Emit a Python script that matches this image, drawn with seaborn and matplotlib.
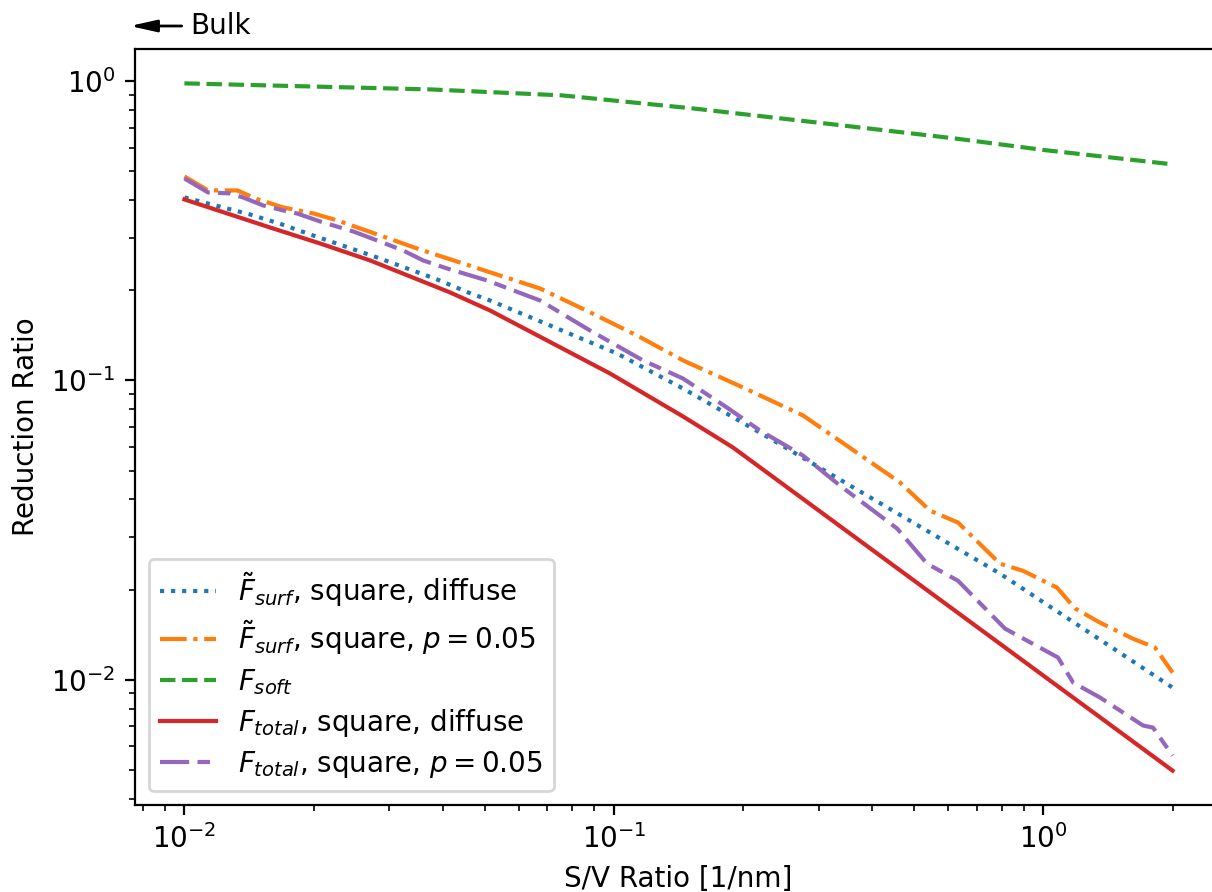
import matplotlib
matplotlib.use("Agg")
import matplotlib.pyplot as plt
import seaborn as sns
import numpy as np

# ---- data ----
x_surf_diffuse = [0.010, 0.01422, 0.01689, 0.01994, 0.02367, 0.02810, 0.03301, 0.03876,
                  0.04576, 0.05149, 0.07105, 0.1017, 0.1449, 0.2311, 0.3239, 0.7930, 2.0]
y_surf_diffuse = [0.4093, 0.3590, 0.3324, 0.3054, 0.2807, 0.2578, 0.2369, 0.2177,
                  0.1970, 0.1851, 0.1527, 0.1231, 0.0940, 0.0640, 0.0481, 0.0226, 0.0094]

x_surf_p = [0.010, 0.01135, 0.01327, 0.01485, 0.01698, 0.01994, 0.02268, 0.02810, 0.03538,
            0.04385, 0.05149, 0.06733, 0.08803, 0.1132, 0.1449, 0.2000, 0.2757, 0.4638,
            0.5448, 0.6329, 0.7930, 0.8970, 1.076, 1.185, 1.355, 1.617, 1.820, 2.0]
y_surf_p = [0.481, 0.432, 0.432, 0.403, 0.379, 0.362, 0.343, 0.308, 0.274,
            0.248, 0.230, 0.203, 0.169, 0.1414, 0.1167, 0.0947, 0.0764, 0.0456,
            0.0367, 0.0335, 0.0244, 0.0231, 0.0203, 0.0173, 0.0155, 0.0137, 0.0128, 0.01055]

x_soft = [0.010, 0.0375, 0.0757, 0.153, 0.309, 0.620, 1.0, 2.0]
y_soft = [0.985, 0.940, 0.898, 0.812, 0.724, 0.645, 0.590, 0.528]

x_total_diffuse = [0.010, 0.01582, 0.02070, 0.02706, 0.04155, 0.05149, 0.0980, 0.1449, 0.1894, 2.0]
y_total_diffuse = [0.4030, 0.3248, 0.2871, 0.2520, 0.1970, 0.1714, 0.1055, 0.0758, 0.0597, 0.00496]

x_total_p = [0.010, 0.01135, 0.01277, 0.01369, 0.01525, 0.01698, 0.01829, 0.02070, 0.02304,
             0.02471, 0.02810, 0.03230, 0.03595, 0.04089, 0.05067, 0.06733, 0.08803, 0.1169,
             0.1449, 0.1834, 0.2190, 0.2757, 0.3363, 0.4565, 0.5362, 0.6329, 0.8144, 1.082,
             1.173, 1.355, 1.707, 1.800, 2.0]
y_total_p = [0.4737, 0.4253, 0.4221, 0.4093, 0.3848, 0.3703, 0.3618, 0.3402, 0.3248,
             0.3150, 0.2939, 0.2721, 0.2520, 0.2369, 0.2160, 0.1851, 0.1469, 0.1167,
             0.1015, 0.0812, 0.0680, 0.0561, 0.0445, 0.0320, 0.0244, 0.0214, 0.0148, 0.01185,
             0.00977, 0.00871, 0.00702, 0.00691, 0.00557]

labels = [r"$\tilde{F}_{surf}$, square, diffuse",
          r"$\tilde{F}_{surf}$, square, $p=0.05$",
          r"$F_{soft}$",
          r"$F_{total}$, square, diffuse",
          r"$F_{total}$, square, $p=0.05$"]

series = [(x_surf_diffuse, y_surf_diffuse, "#1f77b4", ":"),
          (x_surf_p, y_surf_p, "#ff7f0e", "-."),
          (x_soft, y_soft, "#2ca02c", "--"),
          (x_total_diffuse, y_total_diffuse, "#d62728", "-"),
          (x_total_p, y_total_p, "#9467bd", (0, (7, 2, 3, 2)))]

fig = plt.figure(figsize=(6.06, 4.46), dpi=200)
ax = fig.add_axes([135/1212, 87/892, 1087/1212, 756/892])

for (xs, ys, c, ls), lab in zip(series, labels):
    sns.lineplot(x=xs, y=ys, ax=ax, color=c, linestyle=ls, label=lab,
                 estimator=None, sort=False, linewidth=1.5)

ax.set_xscale("log")
ax.set_yscale("log")
ax.set_xlabel("S/V Ratio [1/nm]")
ax.set_ylabel("Reduction Ratio")
ax.legend(loc="lower left", labelspacing=0.36)

ax.annotate("Bulk", xy=(130/1212, 866/892), xycoords="figure fraction",
            xytext=(190/1212, 866/892), textcoords="figure fraction",
            ha="left", va="center", fontsize=10,
            arrowprops=dict(arrowstyle="-|>,head_length=0.4,head_width=0.09",
                            mutation_scale=20, color="black", lw=1.0,
                            shrinkA=1, shrinkB=0))

fig.savefig("out.png", dpi=200)
